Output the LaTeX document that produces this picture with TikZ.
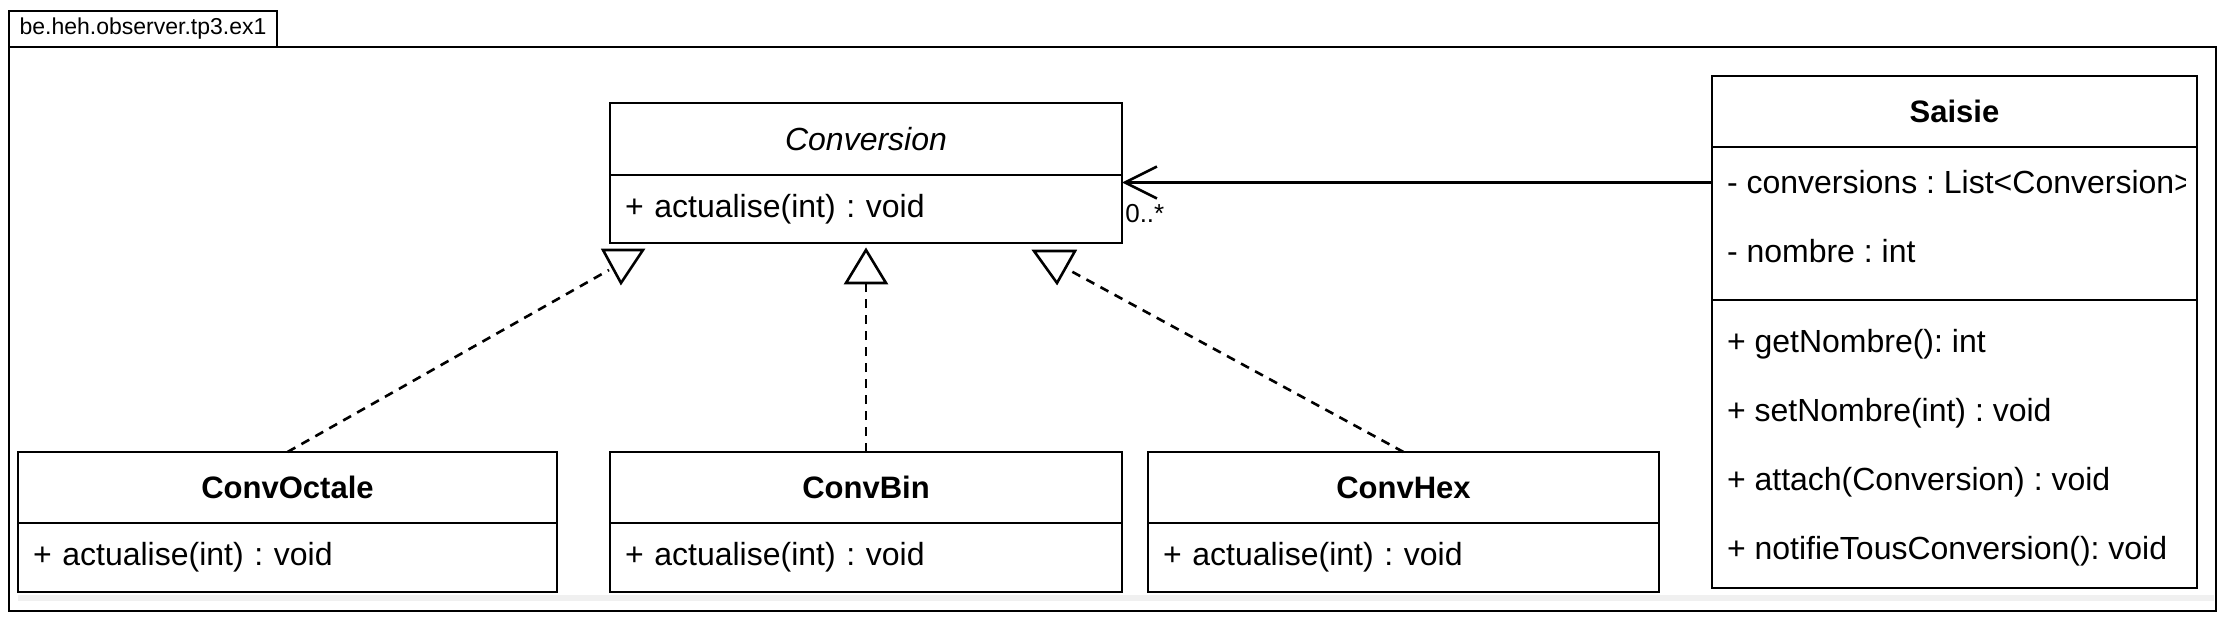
\documentclass[tikz,border=0pt]{standalone}
\usepackage{fontspec}
\setmainfont{Liberation Sans}
\frenchspacing
\usetikzlibrary{arrows.meta}
\begin{document}
\begin{tikzpicture}[x=1pt,y=-1pt,line width=2.6pt,
	every node/.style={font=\fontsize{32}{38}\selectfont},
	head/.style={draw,minimum width=#1,minimum height=71pt,outer sep=0pt,font=\fontsize{31}{38}\selectfont\bfseries},
	body/.style={draw,anchor=north,minimum height=69pt,inner xsep=15pt,inner ysep=0pt,outer sep=0pt,align=left},
	row/.style={anchor=west,inner xsep=15pt,inner ysep=0pt,outer sep=0pt},
	real/.style={dashed,dash pattern=on 9pt off 7pt},
	tri/.style={fill=white,line join=miter},
	assoc/.style={-{Straight Barb[length=32pt,width=32pt]}}]
	\useasboundingbox (0,0) rectangle (2236,629);
	% package
	\node[draw,line width=1.6pt,anchor=north west,minimum width=268pt,minimum height=36pt,inner xsep=9pt,outer sep=0pt,font=\fontsize{23}{28}\selectfont] (pkg) at (9,11) {be.heh.observer.tp3.ex1};
	\coordinate (fr) at (2216,611);
	\draw[line width=1.6pt] (pkg.south west) rectangle (fr);
	\fill[black!6] (18,595) rectangle (2214,601);
	% interface
	\node[head=512pt,minimum height=72pt,font=\fontsize{32}{38}\selectfont\itshape] (conv) at (866,139) {Conversion};
	\node[body,text width=482pt,minimum height=68pt] (convM) at (conv.south) {+ actualise(int) : void};
	% implementations
	\node[head=539pt] (octH) at (287.5,487.5) {ConvOctale};
	\node[body,text width=509pt] (octM) at (octH.south) {+ actualise(int) : void};
	\node[head=512pt] (binH) at (866,487.5) {ConvBin};
	\node[body,text width=482pt] (binM) at (binH.south) {+ actualise(int) : void};
	\node[head=511pt] (hexH) at (1403.5,487.5) {ConvHex};
	\node[body,text width=481pt] (hexM) at (hexH.south) {+ actualise(int) : void};
	% subject
	\node[head=485pt] (sais) at (1954.5,111.5) {Saisie};
	\node[body,minimum width=485pt,minimum height=153pt] (saisA) at (sais.south) {};
	\node[body,minimum width=485pt,minimum height=288pt] (saisM) at (saisA.south) {};
	\begin{scope}
		\clip (saisA.north west) rectangle (2185,300);
		\node[row] (convs) at (1712,182.5) {- conversions : List<Conversion>};
		\node[row] (nomb) at (1712,251.5) {- nombre : int};
	\end{scope}
	\foreach \y/\t [count=\i] in {344.5/{+ getNombre(): int},413.5/{+ setNombre(int) : void},482.5/{+ attach(Conversion) : void},551.5/{+ notifieTousConversion(): void}}
		\node[row] (meth\i) at (1712,\y) {\t};
	% realisations
	\coordinate (tO) at (621,283);
	\coordinate (eO) at (609,270);
	\draw[real] (octH.north) -- (eO);
	\draw[tri] (tO) -- ++(-18,-33) -- ++(40,0) -- cycle;
	\coordinate (tB) at (866,283);
	\draw[real] (binH.north) -- (tB);
	\draw[tri] (tB) -- ++(-20,0) -- ++(20,-33) -- ++(20,33) -- cycle;
	\coordinate (tH) at (1057,283);
	\coordinate (eH) at (1069,270);
	\draw[real] (hexH.north) -- (eH);
	\draw[tri] (tH) -- ++(-23,-32) -- ++(41,0) -- cycle;
	% association
	\draw[assoc] (convs.west) -- (convs.west -| convM.east)
		node[anchor=base west,inner sep=1pt,xshift=1pt,yshift=-39.5pt,font=\fontsize{26}{30}\selectfont] (mult) {0..*};
\end{tikzpicture}
\end{document}
